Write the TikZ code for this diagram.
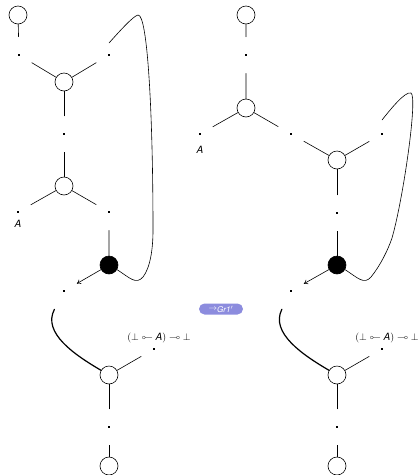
\documentclass[tikz,border=0pt]{standalone}
\usepackage{amsmath,amssymb}
\usepackage{graphicx}
\usepackage{fontspec}
\setmainfont{TeX Gyre Heros}
\usetikzlibrary{arrows.meta}
\definecolor{btnblue}{RGB}{140,140,222}
\newcommand{\llimp}{\mathrel{\reflectbox{$\multimap$}}}
\tikzset{
  vtx/.style={circle, draw, minimum size=18pt, inner sep=0pt},
  blk/.style={vtx, fill},
  port/.style={rectangle, minimum width=25pt, minimum height=36pt, inner sep=0pt,
    path picture={\fill ([shift={(-1pt,-1pt)}]path picture bounding box.center)
      rectangle ([shift={(1pt,1pt)}]path picture bounding box.center);}},
  lbl/.style={inner sep=1pt, font=\normalsize},
  fat/.style={line width=1.2pt},
  btn/.style={rounded corners=5.5pt, fill=btnblue, text=white, font=\footnotesize,
    minimum width=44pt, minimum height=11pt, inner sep=0.5pt},
  every picture/.style={line cap=round, line join=round}
}

\begin{document}
\begin{tikzpicture}[x=1pt, y=-1pt, line width=0.6pt]
  \useasboundingbox (0,0) rectangle (420,475);
  % left net
  \node[vtx] (lc0) at (18,15) {};
  \node[port] (lp1) at (19,55) {};
  \node[port] (lp2) at (109,55) {};
  \node[vtx] (lv1) at (64,82) {};
  \node[port] (lp3) at (64,134) {};
  \node[vtx] (lv2) at (64,186) {};
  \node[port] (lp4) at (18,212) {};
  \node[port] (lp5) at (109,212) {};
  \node[lbl] (la1) at (18,224) {\textit{A}};
  \node[blk] (lb) at (109,265) {};
  \node[port] (lp6) at (64,291) {};
  \node[vtx] (lv3) at (109,375) {};
  \node[port] (lp7) at (154,349) {};
  \node[lbl] (lt) at (159,338) {$(\bot\llimp\textit{A})\multimap\bot$};
  \node[port] (lp8) at (109,427) {};
  \node[vtx] (lc1) at (109,466) {};
  \draw (lc0)--(lp1)--(lv1)--(lp2);
  \draw (lv1)--(lp3)--(lv2);
  \draw (lp4)--(lv2)--(lp5)--(lb);
  \draw[-{To[length=4pt,width=5pt]}] (lb)--(lp6);
  \draw (lb.-30) .. controls (130,278) and (136,285) .. (143,277)
    .. controls (150,268) and (153,250) .. (153,230)
    .. controls (153,120) and (148,14) .. (138,15)
    .. controls (133,16) and (118,33) .. ([yshift=12pt]lp2.center);
  \draw[fat] (lp6) .. controls (42,333) and (75,355) .. (lv3);
  \draw (lv3)--(lp7);
  \draw (lv3)--(lp8)--(lc1);
  % right net
  \node[vtx] (rc0) at (246,15) {};
  \node[port] (rp1) at (246,55) {};
  \node[vtx] (rv1) at (246,108) {};
  \node[port] (rp2) at (200,134) {};
  \node[lbl] (ra1) at (200,150) {\textit{A}};
  \node[port] (rp3) at (291,134) {};
  \node[vtx] (rv2) at (337,160) {};
  \node[port] (rp4) at (382,134) {};
  \node[port] (rp5) at (337,213) {};
  \node[blk] (rb) at (337,265) {};
  \node[port] (rp6) at (291,291) {};
  \node[vtx] (rv3) at (337,375) {};
  \node[port] (rp7) at (382,349) {};
  \node[lbl] (rt) at (387,338) {$(\bot\llimp\textit{A})\multimap\bot$};
  \node[port] (rp8) at (337,427) {};
  \node[vtx] (rc1) at (337,466) {};
  \draw (rc0)--(rp1)--(rv1)--(rp2);
  \draw (rv1)--(rp3)--(rv2)--(rp4);
  \draw (rv2)--(rp5)--(rb);
  \draw[-{To[length=4pt,width=5pt]}] (rb)--(rp6);
  \draw (rb.-30) .. controls (358,278) and (364,285) .. (371,277)
    .. controls (380,266) and (388,250) .. (392,238)
    .. controls (403,200) and (418,97) .. (411,93)
    .. controls (405,91) and (390,110) .. ([yshift=14pt]rp4.center);
  \draw[fat] (rp6) .. controls (270,333) and (303,355) .. (rv3);
  \draw (rv3)--(rp7);
  \draw (rv3)--(rp8)--(rc1);
  % step button
  \node[btn] (go) at (221,309) {$\to$\raisebox{-1.5pt}{\textit{Gr1}$'$}};
\end{tikzpicture}
\end{document}
